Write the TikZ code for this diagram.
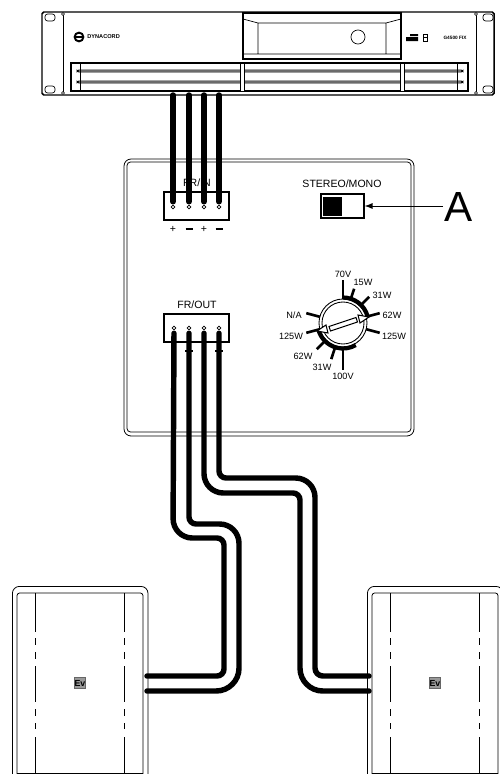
\documentclass[tikz,border=0pt]{standalone}
\usepackage{fontspec}
\setmainfont{Liberation Sans}
\tikzset{
    wire/.style={line width=3.1pt,line cap=round},
    thin line/.style={line width=0.45pt},
    boxline/.style={draw,line width=0.85pt,inner sep=0pt},
    lab/.style={font=\fontsize{6pt}{6.5pt}\selectfont,inner sep=0pt},
    diallab/.style={font=\fontsize{5.2pt}{6pt}\selectfont,inner sep=0pt},
    tick/.style={line width=1.5pt},
    pin/.style={circle,draw,line width=0.4pt,fill=white,inner sep=0pt,minimum size=2.2pt},
    speakerbox/.style={draw,line width=0.45pt,rounded corners=4pt,anchor=north west,inner sep=0pt,minimum width=77.2pt,minimum height=120pt}
}
\begin{document}
\begin{tikzpicture}[x=0.02cm,y=-0.02cm]
    \useasboundingbox (0,0) rectangle (500,774);

    % amplifier
    \draw[line width=0.85pt,rounded corners=1pt] (42,12) rectangle (494,95);
    \draw[line width=0.55pt] (63,13) -- (63,94) (476,13) -- (476,94);
    \foreach \hx in {63,476} \foreach \hy in {14,93}
        \draw[line width=0.35pt,fill=white] (\hx,\hy) circle (1.5);
    \foreach \hx in {45,483} \foreach \hy in {14,86}
        \draw[line width=0.4pt,rounded corners=1.5pt] (\hx,\hy) rectangle ++(10,7);
    \draw[line width=0.85pt] (243,13) rectangle (401,59);
    \draw[line width=0.4pt] (243,19) -- (258,23) -- (386,23) -- (401,19) (258,23) -- (258,54) (386,23) -- (386,54) (243,54) -- (401,54);
    \node[circle,draw,line width=0.4pt,minimum size=8pt,inner sep=0pt] (knob) at (358,37) {};
    \node[circle,draw,line width=1.1pt,minimum size=5pt,inner sep=0pt] (logo) at (79,37) {};
    \draw[line width=0.6pt] (logo.west) -- (logo.east);
    \node[right=0pt,inner sep=0pt,font=\bfseries\fontsize{3.2pt}{4pt}\selectfont] (brand) at (87,37) {DYNACORD};
    \node[inner sep=0pt,font=\bfseries\fontsize{2.7pt}{3pt}\selectfont] (model) at (455,38) {G4500 FIX};
    \fill (406,37) rectangle (418,41) (410,34) rectangle (418,36);
    \draw[line width=0.35pt] (423,34) rectangle (427,41) (423,37.5) -- (427,37.5);
    \draw[line width=0.85pt] (71,63) rectangle (468,91);
    \foreach \sy in {71,82}
        \draw[line width=0.45pt,fill=black!35,rounded corners=1pt] (77,\sy-1) rectangle (463,\sy+1);
    \draw[line width=0.4pt] (80,63) -- (80,91) (457,63) -- (457,91);
    \foreach \dx in {240,400}
        \draw[line width=0.4pt,fill=white] (\dx,63) rectangle ++(4.5,28);

    % panel
    \draw[thin line,rounded corners=4pt] (124,159) rectangle (414,436);
    \draw[thin line,rounded corners=2pt] (127,162) rectangle (411,432);

    \node[boxline,minimum width=36.8pt,minimum height=15.8pt] (frin) at (196.5,206) {};
    \node[lab] (frinlab) at (197,183) {FR/IN};
    \node[lab] (stereo) at (342,184) {STEREO/MONO};
    \node[boxline,minimum width=24.4pt,minimum height=13.6pt] (switch) at (342.5,206) {};
    \fill (323,197) rectangle (342,216);
    \node[inner sep=0pt,font=\fontsize{24pt}{24pt}\selectfont] (labA) at (459,207) {A};
    \coordinate (arrowstart) at (443,206);
    \draw[-latex,line width=0.55pt] (arrowstart) -- (switch.east);

    \node[boxline,minimum width=36.8pt,minimum height=15.8pt] (frout) at (196.5,328) {};
    \node[lab] (froutlab) at (197,305) {FR/OUT};

    \foreach \px/\py/\pn in {173/207/a,189/207/b,204/207/c,219/207/d,174/328/e,189/328/f,204/328/g,219/328/h}
        \node[pin] (pin\pn) at (\px,\py) {};
    \foreach \sx/\st in {173/+,204/+}
        \node[lab] at (\sx,229) {\st};
    \foreach \sx in {189,219}
        \draw[line width=1pt] (\sx-3.5,229) -- (\sx+3.5,229);

    % dial
    \begin{scope}[shift={(343,323)},yscale=-1]
        \draw[line width=0.5pt] (0,0) circle (21) circle (24);
        \draw[line width=2.4pt] (90:25.5) arc (90:15:25.5);
        \draw[line width=2.4pt] (195:25.5) arc (195:300:25.5);
        \foreach \ta/\tr in {90/43,72/36,45/37,15/38,-15/38,-90/47,-108/38,-135/37,195/38,165/38}
            \draw[tick] (\ta:24) -- (\ta:\tr);
    \end{scope}
    \node[diallab] at (343,274) {70V};
    \node[diallab] at (363,282) {15W};
    \node[diallab] at (382,295) {31W};
    \node[diallab] at (392,315) {62W};
    \node[diallab] at (394,336) {125W};
    \node[diallab] at (343,376) {100V};
    \node[diallab] at (322,367) {31W};
    \node[diallab] at (303,356) {62W};
    \node[diallab] at (291,336) {125W};
    \node[diallab] at (294,315) {N/A};
    \draw[line width=0.6pt,fill=white] (317,331) -- (326,325) -- (328,333) -- cycle;
    \draw[line width=0.6pt,fill=white] (369,317) -- (358,315) -- (360,323) -- cycle;
    \draw[line width=0.6pt,fill=white] (329,326.5) -- (356,317.5) -- (357.5,322) -- (330.5,331) -- cycle;

    % speakers
    \foreach \sx/\sn in {0/l,355/r} {
        \node[speakerbox] (spk\sn) at (12+\sx,586) {};
        \draw[thin line,rounded corners=1.5pt] (17+\sx,775) -- (17+\sx,593) -- (143+\sx,593) -- (143+\sx,775);
        \draw[thin line] (17+\sx,773) -- (143+\sx,773);
        \foreach \dx in {35,124}
            \draw[thin line] (\dx+\sx,593) -- (\dx+\sx,632) (\dx+\sx,638) -- (\dx+\sx,645) (\dx+\sx,652) -- (\dx+\sx,659) (\dx+\sx,666) -- (\dx+\sx,702) (\dx+\sx,709) -- (\dx+\sx,716) (\dx+\sx,723) -- (\dx+\sx,729) (\dx+\sx,737) -- (\dx+\sx,773);
        \node[draw=black!60,line width=0.7pt,fill=black!40,minimum size=6.4pt,inner sep=0pt,font=\bfseries\fontsize{5pt}{5pt}\selectfont] (logo\sn) at (80+\sx,683) {Ev};
    }

    % wires
    \foreach \wx/\pn in {173/a,189/b,204/c,219/d}
        \draw[wire,shorten >=1.7pt] (\wx,95) -- (pin\pn.north);
    \coordinate (endll) at (147,691);
    \coordinate (endlu) at (147,676);
    \coordinate (endrl) at (369,691);
    \coordinate (endru) at (369,676);
    \draw[wire,shorten <=1.7pt,rounded corners=11pt] (pine.south) -- (173,538) [rounded corners=4pt] -- (224,538) -- (224,676) -- (endlu);
    \draw[wire,shorten <=1.7pt,rounded corners=4pt] (pinf.south) -- (189,524) [rounded corners=11pt] -- (239,524) [rounded corners=13pt] -- (239,691) -- (endll);
    \draw[wire,shorten <=1.7pt,rounded corners=11pt] (ping.south) -- (204,493) [rounded corners=4pt] -- (300,493) [rounded corners=13pt] -- (300,691) -- (endrl);
    \draw[wire,shorten <=1.7pt,rounded corners=4pt] (pinh.south) -- (219,478) [rounded corners=11pt] -- (315,478) [rounded corners=4.5pt] -- (315,676) -- (endru);
    \foreach \sx in {189,219}
        \draw[line width=0.9pt] (\sx-4,351) -- (\sx+4,351);
\end{tikzpicture}
\end{document}
